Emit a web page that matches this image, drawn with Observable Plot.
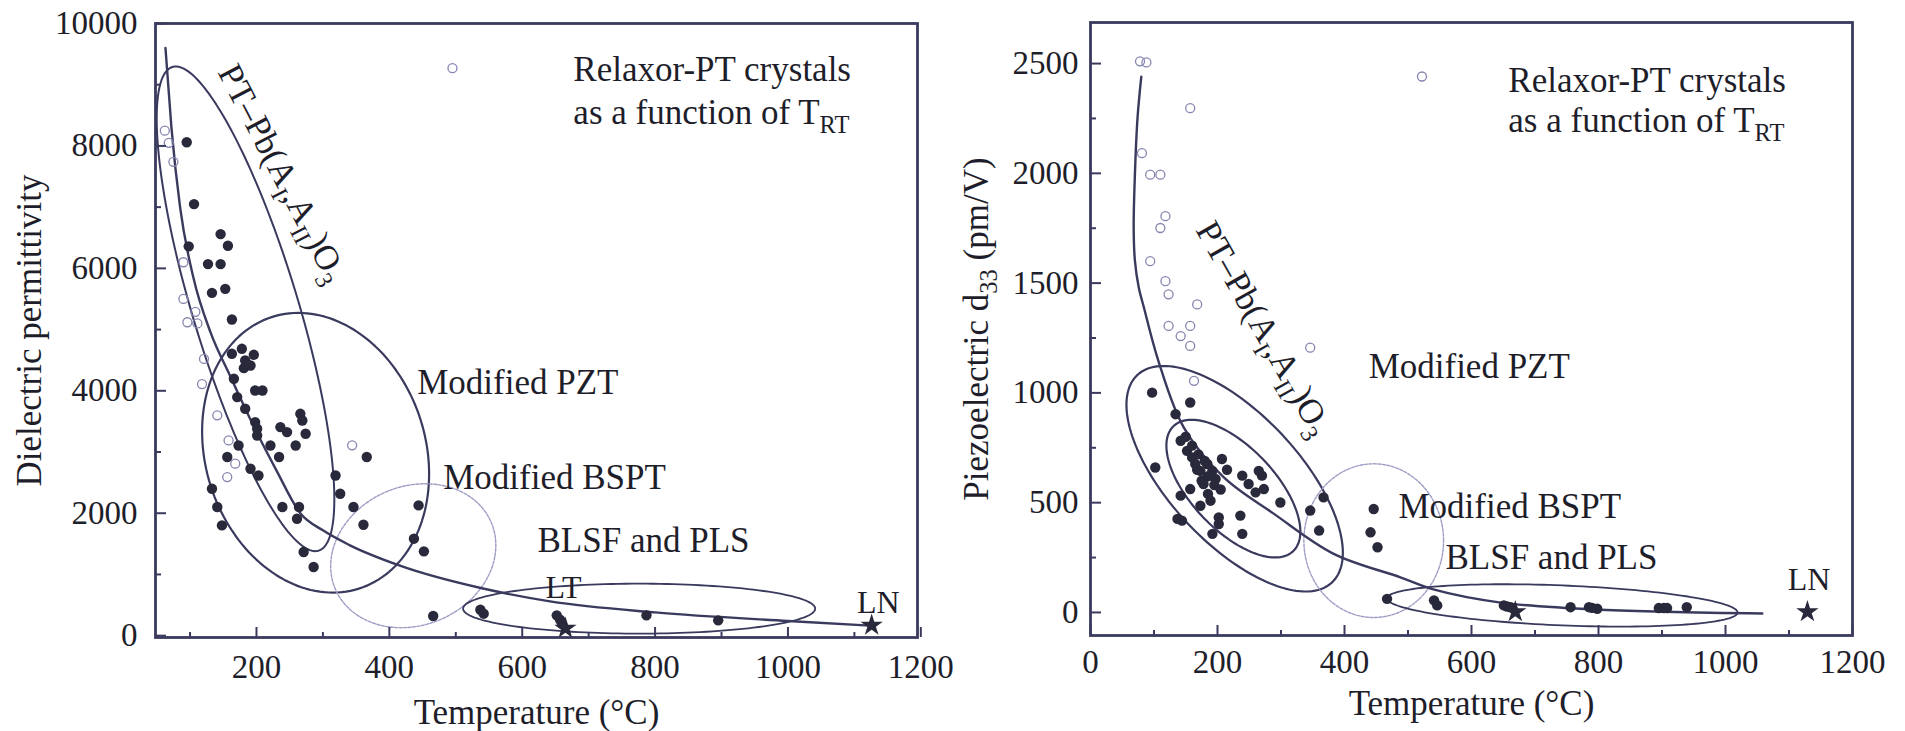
<!DOCTYPE html>
<html><head><meta charset="utf-8">
<script src="https://cdn.jsdelivr.net/npm/d3@7"></script>
<script src="https://cdn.jsdelivr.net/npm/@observablehq/plot@0.6"></script>
<style>
html,body{margin:0;padding:0;background:#fff;}
#wrap{position:relative;width:1905px;height:731px;overflow:hidden;background:#fff;}
#left{position:absolute;left:0;top:0;}
#right{position:absolute;left:956px;top:0;}
</style></head><body>
<div id="wrap"><div id="left"></div><div id="right"></div></div>
<script>
// ---------- Left panel: dielectric permittivity vs temperature ----------
const leftCeramicT = [95,106,146,157,98,127,146,133,153,163,163,178,196,183,191,181,166,198,209,171,183,266,269,198,201,236,246,274,201,221,259,234,156,173,191,203,133,141,148,239,264,261,271,286,319,326,346,366,361,444,437,452,466,537,542,652,657,660,787,895];
const leftCeramicV = [8060,7050,6560,6370,6360,6070,6070,5600,5665,5164,4604,4686,4588,4495,4413,4370,4196,4005,4005,3897,3706,3624,3515,3489,3380,3407,3325,3298,3270,3107,3107,2918,2918,3107,2727,2617,2400,2101,1801,2101,2101,1910,1367,1122,2617,2318,2101,2918,1812,2128,1584,1377,321,424,359,332,260,196,332,250];
const leftRelaxorT = [62,68,75,90,90,96,108,111,121,118,141,158,168,156,344,495];
const leftRelaxorV = [8250,8050,7740,6100,5500,5120,5290,5100,4520,4110,3600,3190,2810,2590,3110,9270];
const leftStarNames = ["LT","LN"];
const leftStarT = [665,1126];
const leftStarV = [120,169];
const leftFitT = [63,72,85,105,131,160,190,230,266,300,340,417,541,642,800,1000,1130];
const leftFitV = [9600,8300,7000,5850,4950,4250,3550,2700,2000,1720,1480,1140,770,560,380,240,160];
// regions: [centre T, centre V, axis-1 dT, axis-1 dV, axis-2 dT, axis-2 dV]
const leftRegionPT   = [183.5,5339,110,-3951,76,250];
const leftRegionPZT  = [289,2988,-65,2220,158,539];
const leftRegionBSPT = [436,1306,123,0,18,1176];
const leftRegionBLSF = [776,441,265,0,0,408];
const leftXTicks = [200,400,600,800,1000,1200];
const leftXMinor = [100,300,500,700,900,1100];
const leftYTicks = [0,2000,4000,6000,8000,10000];
const leftYMinor = [1000,3000,5000,7000,9000];

// ---------- Right panel: piezoelectric d33 vs temperature ----------
const rightCeramicT = [97,157,134,102,142,152,160,165,173,184,192,207,197,178,157,142,173,189,137,144,202,202,192,236,239,239,249,265,260,273,270,299,346,367,360,446,441,452,467,541,546,651,656,661,756,785,790,798,895,903,908,939,150,160,170,180,185,195,168,175,215,205,185];
const rightCeramicD = [1001,956,903,660,782,736,706,676,645,676,645,699,608,585,562,532,486,509,426,418,433,403,358,441,358,623,585,645,547,562,623,501,464,524,373,471,365,297,62,55,32,32,27,24,24,24,21,17,20,20,20,24,800,760,720,690,620,580,650,600,650,560,540];
const rightRelaxorT = [78,88,157,81,94,110,118,110,94,118,123,168,123,157,142,157,346,522,163];
const rightRelaxorD = [2510,2505,2297,2092,1994,1994,1805,1751,1600,1509,1449,1403,1305,1305,1259,1214,1206,2441,1055];
const rightStarNames = ["LT","LN"];
const rightStarT = [669,1129];
const rightStarD = [3,3];
const rightFitT = [80,74,70,68,70,76,84,107,147,210,289,383,488,540,646,803,1058];
const rightFitD = [2440,2250,2000,1750,1600,1480,1390,1145,842,615,449,267,160,105,45,12,-5];
const rightRegionOuter = [227,609,153,-473,75,200];
const rightRegionInner = [225,564,98,-91,-39,300];
const rightRegionBSPT  = [446,327,110,0,0,350];
const rightRegionBLSF  = [743,32,276,-32,0,91];
const rightXTicks = [0,200,400,600,800,1000,1200];
const rightXMinor = [100,300,500,700,900,1100];
const rightYTicks = [0,500,1000,1500,2000,2500];
const rightYMinor = [250,750,1250,1750,2250];

// ---------- styling ----------
const INK = "#1e1e2a", LINE = "#3a3a5e", DOT = "#29293c", OPEN = "#8585b0", LIGHT = "#9d9dc6";
const FONT = "'Liberation Serif','DejaVu Serif',serif";

const pts = (X, Y) => X.map((x, i) => ({x, y: Y[i]}));
function ellipse(p, n = 160) {
  const [cx, cy, ax, ay, bx, by] = p;
  return d3.range(n + 1).map(i => {
    const t = 2 * Math.PI * i / n;
    return {x: cx + ax * Math.cos(t) + bx * Math.sin(t), y: cy + ay * Math.cos(t) + by * Math.sin(t)};
  });
}
function applySubscripts(svg) {
  const ns = "http://www.w3.org/2000/svg";
  svg.querySelectorAll("text").forEach(t => {
    const s = t.textContent;
    if (!s.includes("_{")) return;
    while (t.firstChild) t.removeChild(t.firstChild);
    const re = /_\{([^}]*)\}/g; let last = 0, m; const parts = [];
    while ((m = re.exec(s))) { parts.push([s.slice(last, m.index), false]); parts.push([m[1], true]); last = re.lastIndex; }
    parts.push([s.slice(last), false]);
    let shifted = false;
    for (const [txt, sub] of parts) {
      if (!txt) continue;
      const ts = document.createElementNS(ns, "tspan");
      ts.textContent = txt;
      if (sub) { ts.setAttribute("dy", shifted ? "0" : "9"); ts.setAttribute("font-size", "70%"); shifted = true; }
      else if (shifted) { ts.setAttribute("dy", "-9"); shifted = false; }
      t.appendChild(ts);
    }
  });
}
function frameMarks(cfg) {
  const {plotW, plotH, xTicks, xMinor, yTicks, yMinor, xPad, yPad} = cfg;
  return [
    Plot.tickX(xTicks, {x: d => d, insetTop: plotH - 10, stroke: LINE, strokeWidth: 2}),
    Plot.tickX(xMinor, {x: d => d, insetTop: plotH - 5, stroke: LINE, strokeWidth: 2}),
    Plot.tickY(yTicks, {y: d => d, insetRight: plotW - 11, stroke: LINE, strokeWidth: 2}),
    Plot.tickY(yMinor, {y: d => d, insetRight: plotW - 6, stroke: LINE, strokeWidth: 2}),
    Plot.axisX({ticks: xTicks, tickSize: 0, tickPadding: xPad, fontSize: 33, tickFormat: d => String(d), label: null, color: INK}),
    Plot.axisY({ticks: yTicks, tickSize: 0, tickPadding: yPad, fontSize: 33, tickFormat: d => String(d), label: null, color: INK}),
    Plot.frame({stroke: LINE, strokeWidth: 2.8})
  ];
}

// ---------- left chart ----------
const L = {width: 956, height: 731, mL: 155, mR: 39, mT: 23, mB: 94};
const leftPlot = Plot.plot({
  width: L.width, height: L.height,
  marginLeft: L.mL, marginRight: L.mR, marginTop: L.mT, marginBottom: L.mB,
  x: {domain: [48, 1195]},
  y: {domain: [-30, 10000]},
  style: {fontFamily: FONT, color: INK, background: "white"},
  marks: [
    Plot.line(ellipse(leftRegionPT), {x: "x", y: "y", stroke: LINE, strokeWidth: 2}),
    Plot.line(ellipse(leftRegionPZT), {x: "x", y: "y", stroke: LINE, strokeWidth: 2.2}),
    Plot.line(ellipse(leftRegionBSPT), {x: "x", y: "y", stroke: LIGHT, strokeWidth: 1.4, strokeDasharray: "3,1.5"}),
    Plot.line(ellipse(leftRegionBLSF), {x: "x", y: "y", stroke: LINE, strokeWidth: 1.8}),
    Plot.line(pts(leftFitT, leftFitV), {x: "x", y: "y", curve: "monotone-x", stroke: LINE, strokeWidth: 2.4}),
    Plot.dot(pts(leftRelaxorT, leftRelaxorV), {x: "x", y: "y", r: 4.5, stroke: OPEN, strokeWidth: 1.3, fill: "none"}),
    Plot.dot(pts(leftCeramicT, leftCeramicV), {x: "x", y: "y", r: 5.2, fill: DOT, stroke: "none"}),
    Plot.dot(pts(leftStarT, leftStarV), {x: "x", y: "y", symbol: "star", r: 7, fill: DOT, stroke: "none", title: (d, i) => leftStarNames[i]}),
    ...frameMarks({plotW: L.width - L.mL - L.mR, plotH: L.height - L.mT - L.mB, xTicks: leftXTicks, xMinor: leftXMinor, yTicks: leftYTicks, yMinor: leftYMinor, xPad: 17, yPad: 18}),
    Plot.text(["Temperature (°C)"], {text: d => d, frameAnchor: "bottom", textAnchor: "middle", lineAnchor: "middle", dy: 75, fontSize: 35, fill: INK}),
    Plot.text(["Dielectric permittivity"], {text: d => d, frameAnchor: "left", textAnchor: "middle", lineAnchor: "middle", dx: -126, rotate: -90, fontSize: 35, fill: INK}),
    Plot.text([
      {x: 677, y: 9241, s: "Relaxor-PT crystals"},
      {x: 677, y: 8539, s: "as a function of T_{RT}"},
      {x: 442, y: 4131, s: "Modified PZT"},
      {x: 481, y: 2580, s: "Modified BSPT"},
      {x: 623, y: 1551, s: "BLSF and PLS"}
    ], {x: "x", y: "y", text: "s", textAnchor: "start", fontSize: 35, fill: INK}),
    Plot.text([
      {x: 635, y: 784, s: "LT"},
      {x: 1104, y: 539, s: "LN"}
    ], {x: "x", y: "y", text: "s", textAnchor: "start", fontSize: 32, fill: INK}),
    Plot.text([{x: 156, y: 9290, s: "PT–Pb(A_{I},A_{II})O_{3}"}],
      {x: "x", y: "y", text: "s", textAnchor: "start", rotate: 62.6, fontSize: 35, fill: INK})
  ]
});
applySubscripts(leftPlot);
document.getElementById("left").appendChild(leftPlot);

// ---------- right chart ----------
const R = {width: 949, height: 731, mL: 134, mR: 53, mT: 22, mB: 96};
const rightPlot = Plot.plot({
  width: R.width, height: R.height,
  marginLeft: R.mL, marginRight: R.mR, marginTop: R.mT, marginBottom: R.mB,
  x: {domain: [0, 1200]},
  y: {domain: [-105, 2687]},
  style: {fontFamily: FONT, color: INK, background: "white"},
  marks: [
    Plot.line(ellipse(rightRegionOuter), {x: "x", y: "y", stroke: LINE, strokeWidth: 2.2}),
    Plot.line(ellipse(rightRegionInner), {x: "x", y: "y", stroke: LINE, strokeWidth: 2.2}),
    Plot.line(ellipse(rightRegionBSPT), {x: "x", y: "y", stroke: LIGHT, strokeWidth: 1.4, strokeDasharray: "3,1.5"}),
    Plot.line(ellipse(rightRegionBLSF), {x: "x", y: "y", stroke: LINE, strokeWidth: 1.8}),
    Plot.line(pts(rightFitT, rightFitD), {x: "x", y: "y", curve: "catmull-rom", stroke: LINE, strokeWidth: 2.4}),
    Plot.dot(pts(rightRelaxorT, rightRelaxorD), {x: "x", y: "y", r: 4.5, stroke: OPEN, strokeWidth: 1.3, fill: "none"}),
    Plot.dot(pts(rightCeramicT, rightCeramicD), {x: "x", y: "y", r: 5.2, fill: DOT, stroke: "none"}),
    Plot.dot(pts(rightStarT, rightStarD), {x: "x", y: "y", symbol: "star", r: 7, fill: DOT, stroke: "none", title: (d, i) => rightStarNames[i]}),
    ...frameMarks({plotW: R.width - R.mL - R.mR, plotH: R.height - R.mT - R.mB, xTicks: rightXTicks, xMinor: rightXMinor, yTicks: rightYTicks, yMinor: rightYMinor, xPad: 14, yPad: 12}),
    Plot.text(["Temperature (°C)"], {text: d => d, frameAnchor: "bottom", textAnchor: "middle", lineAnchor: "middle", dy: 68, fontSize: 35, fill: INK}),
    Plot.text(["Piezoelectric d_{33} (pm/V)"], {text: d => d, frameAnchor: "left", textAnchor: "middle", lineAnchor: "middle", dx: -114, rotate: -90, fontSize: 35, fill: INK}),
    Plot.text([
      {x: 658, y: 2423, s: "Relaxor-PT crystals"},
      {x: 658, y: 2241, s: "as a function of T_{RT}"},
      {x: 438, y: 1118, s: "Modified PZT"},
      {x: 485, y: 482, s: "Modified BSPT"},
      {x: 559, y: 250, s: "BLSF and PLS"}
    ], {x: "x", y: "y", text: "s", textAnchor: "start", fontSize: 35, fill: INK}),
    Plot.text([{x: 1098, y: 150, s: "LN"}], {x: "x", y: "y", text: "s", textAnchor: "start", fontSize: 32, fill: INK}),
    Plot.text([{x: 180, y: 1768, s: "PT–Pb(A_{I},A_{II})O_{3}"}],
      {x: "x", y: "y", text: "s", textAnchor: "start", rotate: 60.5, fontSize: 35, fill: INK})
  ]
});
applySubscripts(rightPlot);
document.getElementById("right").appendChild(rightPlot);
</script></body></html>
